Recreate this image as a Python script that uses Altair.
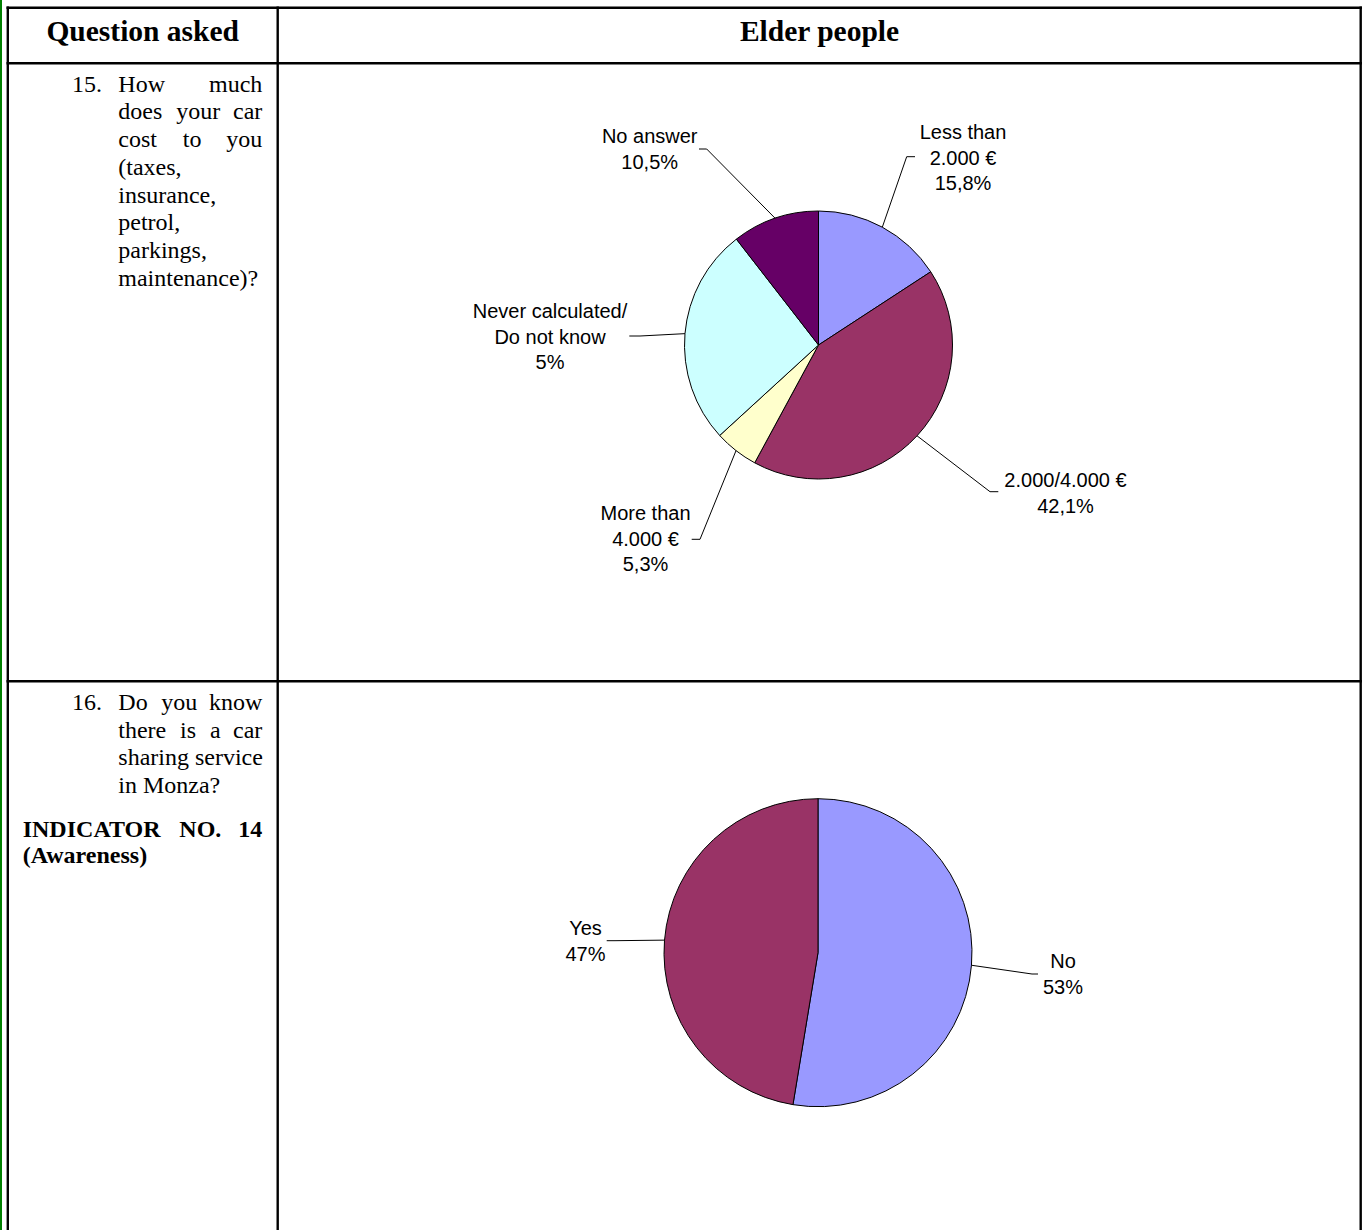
import math
import altair as alt
import pandas as pd

W, H = 1365, 1230

# ---------------- data ----------------
header_titles = ["Question asked", "Elder people"]

q15_categories = ["Less than 2.000 €", "2.000/4.000 €", "More than 4.000 €",
                  "Never calculated/Do not know", "No answer"]
q15_values = [15.8, 42.1, 5.3, 26.3, 10.5]
q15_labels = [["Less than", "2.000 €", "15,8%"],
              ["2.000/4.000 €", "42,1%"],
              ["More than", "4.000 €", "5,3%"],
              ["Never calculated/", "Do not know", "5%"],
              ["No answer", "10,5%"]]

q16_categories = ["No", "Yes"]
q16_values = [52.6, 47.4]
q16_labels = [["No", "53%"], ["Yes", "47%"]]

# question text: (number, [lines of words])
q15_number = "15."
q15_lines = [["How", "much"], ["does", "your", "car"], ["cost", "to", "you"],
             ["(taxes,"], ["insurance,"], ["petrol,"], ["parkings,"], ["maintenance)?"]]
q16_number = "16."
q16_lines = [["Do", "you", "know"], ["there", "is", "a", "car"],
             ["sharing service"], ["in Monza?"]]
q16_bold_lines = [["INDICATOR", "NO.", "14"], ["(Awareness)"]]

# ---------------- styles / layout ----------------
q15_colors = ["#9999FF", "#993366", "#FFFFCC", "#CCFFFF", "#660066"]
q16_colors = ["#9999FF", "#993366"]

PIE1 = {"cx": 818.5, "cy": 345.0, "r": 134.0}
PIE2 = {"cx": 818.0, "cy": 952.7, "r": 154.0}
LABEL_PITCH = 25.5

pie1_label_layout = [
    {"tx": 963.0, "ty": 139.0, "elbow": (906.7, 156.7), "end": (915.0, 156.7)},
    {"tx": 1065.5, "ty": 487.0, "elbow": (990.0, 491.7), "end": (998.3, 491.7)},
    {"tx": 645.5, "ty": 520.0, "elbow": (700.0, 539.3), "end": (691.7, 539.3)},
    {"tx": 550.0, "ty": 318.0, "elbow": (640.0, 336.0), "end": (629.3, 336.0)},
    {"tx": 649.7, "ty": 143.0, "elbow": (706.7, 149.0), "end": (699.0, 149.0)},
]
pie2_label_layout = [
    {"tx": 1063.0, "ty": 968.0, "elbow": (1032.0, 974.0), "end": (1038.0, 974.0)},
    {"tx": 585.5, "ty": 935.0, "elbow": (615.0, 940.7), "end": (606.7, 940.7)},
]

# table grid lines (layout)
table_rules = [
    {"x": 6.5, "x2": 1362.0, "y": 7.8, "y2": 7.8},
    {"x": 6.5, "x2": 1362.0, "y": 63.3, "y2": 63.3},
    {"x": 6.5, "x2": 1362.0, "y": 681.3, "y2": 681.3},
    {"x": 7.8, "x2": 7.8, "y": 6.5, "y2": 1230.0},
    {"x": 277.7, "x2": 277.7, "y": 6.5, "y2": 1230.0},
    {"x": 1360.7, "x2": 1360.7, "y": 6.5, "y2": 1230.0},
]
green_rule = [{"x": 1.0, "x2": 1.0, "y": 0.0, "y2": 1230.0}]

# word positions for justified question text (x, align)
LEFT_X, RIGHT_X, NUM_X = 118.3, 262.3, 72.0
q15_word_pos = [
    [(LEFT_X, "left"), (RIGHT_X, "right")],
    [(LEFT_X, "left"), (198.3, "center"), (RIGHT_X, "right")],
    [(LEFT_X, "left"), (192.2, "center"), (RIGHT_X, "right")],
    [(LEFT_X, "left")], [(LEFT_X, "left")], [(LEFT_X, "left")],
    [(LEFT_X, "left")], [(LEFT_X, "left")],
]
q16_word_pos = [
    [(LEFT_X, "left"), (179.2, "center"), (RIGHT_X, "right")],
    [(LEFT_X, "left"), (188.0, "center"), (215.3, "center"), (RIGHT_X, "right")],
    [(LEFT_X, "left")], [(LEFT_X, "left")],
]
q16_bold_pos = [
    [(22.7, "left"), (200.3, "center"), (RIGHT_X, "right")],
    [(22.7, "left")],
]
Q15_BASE, Q15_PITCH = 91.7, 27.75
Q16_BASE, Q16_PITCH = 710.0, 27.6
Q16B_BASE, Q16B_PITCH = 836.7, 26.6

SERIF = "Liberation Serif"
SANS = "Liberation Sans"

xs = alt.Scale(domain=[0, W], nice=False, zero=False)
ys = alt.Scale(domain=[0, H], nice=False, zero=False, reverse=True)


def X(f="x"):
    return alt.X(f"{f}:Q", scale=xs, axis=None)


def Y(f="y"):
    return alt.Y(f"{f}:Q", scale=ys, axis=None)


# ---------------- build layers ----------------
layers = []

# table grid
layers.append(
    alt.Chart(pd.DataFrame(green_rule)).mark_rule(color="#008000", strokeWidth=2)
    .encode(x=X("x"), x2="x2:Q", y=Y("y"), y2="y2:Q")
)
layers.append(
    alt.Chart(pd.DataFrame(table_rules)).mark_rule(color="black", strokeWidth=2.4)
    .encode(x=X("x"), x2="x2:Q", y=Y("y"), y2="y2:Q")
)

# header
hdr = pd.DataFrame({"text": header_titles, "x": [142.7, 819.5], "y": [40.5, 40.5]})
layers.append(
    alt.Chart(hdr).mark_text(font=SERIF, fontSize=29.5, fontWeight="bold", align="center",
                             baseline="alphabetic", color="black")
    .encode(x=X(), y=Y(), text="text:N")
)

# question text
body_rows = {"left": [], "center": [], "right": []}
bold_rows = {"left": [], "center": [], "right": []}


def add_block(lines, positions, base, pitch, store):
    for i, (words, pos) in enumerate(zip(lines, positions)):
        for w, (px, al) in zip(words, pos):
            store[al].append({"text": w, "x": px, "y": base + i * pitch})


add_block(q15_lines, q15_word_pos, Q15_BASE, Q15_PITCH, body_rows)
add_block(q16_lines, q16_word_pos, Q16_BASE, Q16_PITCH, body_rows)
add_block(q16_bold_lines, q16_bold_pos, Q16B_BASE, Q16B_PITCH, bold_rows)
body_rows["left"].append({"text": q15_number, "x": NUM_X, "y": Q15_BASE})
body_rows["left"].append({"text": q16_number, "x": NUM_X, "y": Q16_BASE})

for store, weight in ((body_rows, "normal"), (bold_rows, "bold")):
    for al, rows in store.items():
        if not rows:
            continue
        layers.append(
            alt.Chart(pd.DataFrame(rows)).mark_text(font=SERIF, fontSize=24, fontWeight=weight,
                                                    align=al, baseline="alphabetic", color="black")
            .encode(x=X(), y=Y(), text="text:N")
        )


# pies
def pie_layers(cats, vals, labels, colors, geom, label_layout):
    total = float(sum(vals))
    arcs = pd.DataFrame({"category": cats, "value": vals, "idx": list(range(len(cats)))})
    texts, leaders = [], []
    cum = 0.0
    for i, (c, v) in enumerate(zip(cats, vals)):
        mid = (cum + v / 2.0) / total * 2 * math.pi
        cum += v
        ex = geom["cx"] + geom["r"] * math.sin(mid)
        ey = geom["cy"] - geom["r"] * math.cos(mid)
        lay = label_layout[i]
        leaders.append({"key": c, "pt": 0, "x": ex, "y": ey})
        leaders.append({"key": c, "pt": 1, "x": lay["elbow"][0], "y": lay["elbow"][1]})
        leaders.append({"key": c, "pt": 2, "x": lay["end"][0], "y": lay["end"][1]})
        for j, line in enumerate(labels[i]):
            texts.append({"text": line, "x": lay["tx"], "y": lay["ty"] + j * LABEL_PITCH})
    arc = alt.Chart(arcs).mark_arc(outerRadius=geom["r"], stroke="black", strokeWidth=1).encode(
        theta=alt.Theta("value:Q", stack=True),
        order=alt.Order("idx:Q"),
        color=alt.Color("category:N", scale=alt.Scale(domain=cats, range=colors), legend=None),
        x=alt.value(geom["cx"]),
        y=alt.value(geom["cy"]),
    )
    lead = alt.Chart(pd.DataFrame(leaders)).mark_line(color="black", strokeWidth=1).encode(
        x=X(), y=Y(), detail="key:N", order="pt:Q"
    )
    txt = alt.Chart(pd.DataFrame(texts)).mark_text(font=SANS, fontSize=20, align="center",
                                                  baseline="alphabetic", color="black").encode(
        x=X(), y=Y(), text="text:N"
    )
    return [arc, lead, txt]


layers += pie_layers(q15_categories, q15_values, q15_labels, q15_colors, PIE1, pie1_label_layout)
layers += pie_layers(q16_categories, q16_values, q16_labels, q16_colors, PIE2, pie2_label_layout)

chart = (
    alt.layer(*layers)
    .resolve_scale(theta="independent", color="independent")
    .properties(width=W, height=H, padding=0, autosize="none", background="white")
    .configure_view(stroke=None)
)

chart.save("out.html", embed_options={"renderer": "svg", "actions": False})
